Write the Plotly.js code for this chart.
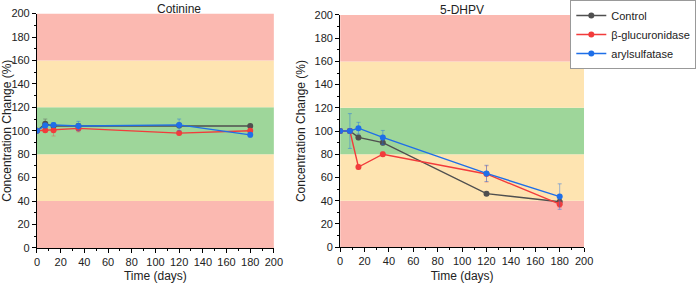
<!DOCTYPE html>
<html>
<head>
<meta charset="utf-8">
<script src="https://cdn.plot.ly/plotly-3.0.1.min.js"></script>
<style>html,body{margin:0;padding:0;background:#fff;}#chart{width:697px;height:283px;}</style>
</head>
<body>
<div id="chart"></div>
<script>
// ---- Data ----
const panelTitles = ["Cotinine", "5-DHPV"];
const seriesNames = ["Control", "β-glucuronidase", "arylsulfatase"];
const timeCot = [0, 7, 14, 35, 120, 180];
const cotControl = [100, 106, 104, 104, 104.5, 104];
const cotControlErr = [0, 4, 2, 2, 2, 1.5];
const cotGluc = [100, 100.5, 100.5, 102, 98, 100];
const cotGlucErr = [0, 2, 5, 3, 1.5, 1.5];
const cotAryl = [100, 104.5, 105, 104, 105, 96.5];
const cotArylErr = [0, 2, 2, 4, 5, 2];

const timeDh = [0, 8, 15, 35, 120, 180];
const dhControl = [100, 100, 94.5, 90, 46, 39];
const dhControlErr = [0, 2, 2, 2, 1.5, 1.5];
const dhGluc = [100, 100, 69, 80, 63, 37];
const dhGlucErr = [0, 2, 2, 2, 7, 3];
const dhAryl = [100, 100, 102.5, 94.5, 63.5, 43.5];
const dhArylErr = [0, 15, 5, 6, 7, 11];

const xTicks = [0, 20, 40, 60, 80, 100, 120, 140, 160, 180, 200];
const yTicks = [0, 20, 40, 60, 80, 100, 120, 140, 160, 180, 200];
const bands = [[0, 40, "#fbb9b1"], [40, 80, "#fee4b1"], [80, 120, "#9ed69a"], [120, 160, "#fee4b1"], [160, 200, "#fbb9b1"]];

const colors = ["#4f4f4f", "#f23b3b", "#1f6fe8"];
const errColors = ["rgba(90,90,90,0.45)", "rgba(240,60,60,0.35)", "rgba(30,110,230,0.45)"];

function tr(x, y, e, i, xa, ya, show) {
  return {
    x: x, y: y, type: "scatter", mode: "lines+markers", name: seriesNames[i],
    xaxis: xa, yaxis: ya, showlegend: show, legendgroup: "g" + i,
    line: {color: colors[i], width: 1.4},
    marker: {color: colors[i], size: 6},
    error_y: {type: "data", array: e, visible: true, color: errColors[i], thickness: 1, width: 2}
  };
}

const data = [
  tr(timeCot, cotControl, cotControlErr, 0, "x", "y", true),
  tr(timeCot, cotGluc, cotGlucErr, 1, "x", "y", true),
  tr(timeCot, cotAryl, cotArylErr, 2, "x", "y", true),
  tr(timeDh, dhControl, dhControlErr, 0, "x2", "y2", false),
  tr(timeDh, dhGluc, dhGlucErr, 1, "x2", "y2", false),
  tr(timeDh, dhAryl, dhArylErr, 2, "x2", "y2", false)
];

const shapes = [];
[["x", "y"], ["x2", "y2"]].forEach(([xr, yr]) => {
  bands.forEach(b => shapes.push({type: "rect", xref: xr, yref: yr, x0: 0, x1: 200, y0: b[0], y1: b[1], fillcolor: b[2], line: {width: 0}, layer: "below"}));
});

const font = {family: "Liberation Sans, Arial, sans-serif", color: "#222"};
function xa(dom, anchor) {
  return {domain: dom, anchor: anchor, range: [0, 200], tickvals: xTicks, ticktext: xTicks.map(String),
    showgrid: false, zeroline: false, showline: true, linecolor: "#000", linewidth: 1, automargin: false,
    ticks: "outside", ticklen: 4, tickcolor: "#000", tickfont: {size: 11, family: font.family, color: "#222"},
    minor: {dtick: 10, tick0: 0, ticks: "outside", ticklen: 2, tickcolor: "#000", showgrid: false},
    title: {text: "Time (days)", font: {size: 12, family: font.family, color: "#222"}, standoff: 8}};
}
function ya(dom, anchor) {
  return {domain: dom, anchor: anchor, range: [0, 200], tickvals: yTicks, ticktext: yTicks.map(String),
    showgrid: false, zeroline: false, showline: true, linecolor: "#000", linewidth: 1, automargin: false,
    ticks: "outside", ticklen: 4, tickcolor: "#000", tickfont: {size: 11, family: font.family, color: "#222"},
    minor: {dtick: 10, tick0: 0, ticks: "outside", ticklen: 2, tickcolor: "#000", showgrid: false},
    title: {text: "Concentration Change (%)", font: {size: 12, family: font.family, color: "#222"}, standoff: 6}};
}

const layout = {
  width: 697, height: 283,
  margin: {l: 0, r: 0, t: 0, b: 0, autoexpand: false},
  paper_bgcolor: "#fff", plot_bgcolor: "rgba(0,0,0,0)",
  font: font,
  xaxis: xa([0.053, 0.393], "y"),
  yaxis: ya([0.124, 0.952], "x"),
  xaxis2: xa([0.488, 0.838], "y2"),
  yaxis2: ya([0.127, 0.947], "x2"),
  shapes: shapes,
  annotations: [
    {text: panelTitles[0], xref: "paper", yref: "paper", x: 0.223, y: 1, yanchor: "top", showarrow: false, font: {size: 12, family: font.family, color: "#222"}},
    {text: panelTitles[1], xref: "paper", yref: "paper", x: 0.663, y: 1, yanchor: "top", yshift: -1, showarrow: false, font: {size: 12, family: font.family, color: "#222"}}
  ],
  showlegend: true,
  legend: {x: 0.999, y: 1, xanchor: "right", yanchor: "top", bgcolor: "#fff", bordercolor: "#999", borderwidth: 1,
    font: {size: 11, family: font.family, color: "#222"}, tracegroupgap: 0, itemwidth: 30}
};

Plotly.newPlot("chart", data, layout, {displayModeBar: false, staticPlot: true});
</script>
</body>
</html>
